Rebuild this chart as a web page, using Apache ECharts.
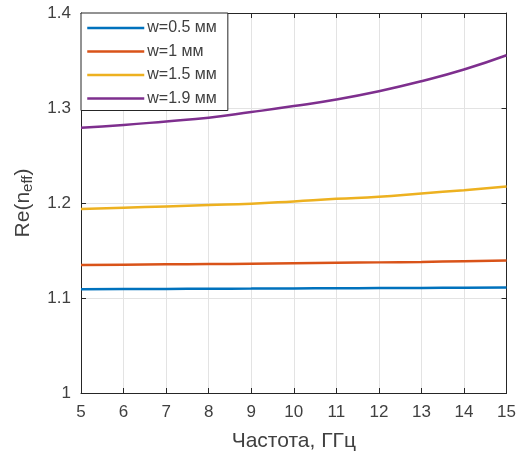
<!DOCTYPE html>
<html>
<head>
<meta charset="utf-8">
<script src="https://cdn.jsdelivr.net/npm/echarts@6/dist/echarts.min.js"></script>
<style>
  html, body { margin: 0; padding: 0; background: #fff; }
  #chart { width: 519px; height: 457px; }
</style>
</head>
<body>
<div id="chart"></div>
<script>
// Frequency grid, GHz
const freq = [5, 6, 7, 8, 9, 10, 11, 12, 13, 14, 15];

// Re(n_eff) for each strip width
const w05 = [1.1093, 1.1095, 1.1096, 1.1098, 1.1099, 1.1101, 1.1102, 1.1104, 1.1106, 1.1108, 1.1110];
const w10 = [1.1348, 1.1351, 1.1354, 1.1357, 1.1361, 1.1366, 1.1370, 1.1375, 1.1380, 1.1387, 1.1394];
const w15 = [1.1936, 1.1950, 1.1964, 1.1978, 1.1992, 1.2017, 1.2044, 1.2065, 1.2101, 1.2135, 1.2174];
const w19 = [1.2793, 1.2821, 1.2859, 1.2898, 1.2957, 1.3020, 1.3090, 1.3177, 1.3282, 1.3405, 1.3555];

const seriesNames = ['w=0.5 мм', 'w=1 мм', 'w=1.5 мм', 'w=1.9 мм'];
const seriesData = [w05, w10, w15, w19];
const colors = ['#0072BD', '#D95319', '#EDB120', '#7E2F8E'];

const FONT = 'Liberation Sans, Arial, sans-serif';
const AX = '#262626';
const TXT = '#404040';

const chart = echarts.init(document.getElementById('chart'), null, { renderer: 'canvas' });

// Top/right axes only close the box and carry inward ticks
const boxAxis = {
  axisLine: { show: true, lineStyle: { color: AX, width: 1 } },
  axisTick: { show: true, inside: true, length: 5, lineStyle: { color: AX } },
  axisLabel: { show: false },
  splitLine: { show: false }
};

chart.setOption({
  backgroundColor: '#fff',
  animation: false,
  color: colors,
  grid: { left: 81, right: 11, top: 13, bottom: 62, containLabel: false },
  legend: {
    orient: 'vertical',
    left: 81,
    top: 13,
    data: seriesNames,
    itemWidth: 57,
    itemHeight: 14,
    itemGap: 7.5,
    padding: [7, 11, 4, 5],
    borderColor: AX,
    borderWidth: 1,
    borderRadius: 0,
    backgroundColor: '#fff',
    itemStyle: { opacity: 0 },
    lineStyle: { width: 2.5 },
    textStyle: { fontFamily: FONT, fontSize: 16, color: TXT, padding: [0, 0, 0, -2] }
  },
  xAxis: [
    {
      type: 'value', min: 5, max: 15, interval: 1, position: 'bottom',
      name: 'Частота, ГГц', nameLocation: 'middle', nameGap: 38,
      nameTextStyle: { fontFamily: FONT, fontSize: 21, color: TXT },
      axisLine: { show: true, lineStyle: { color: AX, width: 1 } },
      axisTick: { show: true, inside: true, length: 5, lineStyle: { color: AX } },
      axisLabel: { fontFamily: FONT, fontSize: 17, color: TXT, margin: 11 },
      splitLine: { show: true, lineStyle: { color: '#e3e3e3', width: 1 } }
    },
    Object.assign({ type: 'value', min: 5, max: 15, interval: 1, position: 'top' }, boxAxis)
  ],
  yAxis: [
    {
      type: 'value', min: 1, max: 1.4, interval: 0.1, position: 'left',
      name: 'Re(n{sub|eff})', nameLocation: 'middle', nameGap: 46,
      nameTextStyle: {
        fontFamily: FONT, fontSize: 21, color: TXT, lineHeight: 24,
        rich: {
          sub: { fontFamily: FONT, fontSize: 15, color: TXT, lineHeight: 8, verticalAlign: 'bottom' }
        }
      },
      axisLine: { show: true, lineStyle: { color: AX, width: 1 } },
      axisTick: { show: true, inside: true, length: 5, lineStyle: { color: AX } },
      axisLabel: {
        fontFamily: FONT, fontSize: 17, color: TXT, margin: 10,
        formatter: v => (Math.abs(v - 1) < 1e-9 ? '1' : v.toFixed(1))
      },
      splitLine: { show: true, lineStyle: { color: '#e3e3e3', width: 1 } }
    },
    Object.assign({ type: 'value', min: 1, max: 1.4, interval: 0.1, position: 'right' }, boxAxis)
  ],
  series: seriesNames.map((name, i) => ({
    name: name,
    type: 'line',
    xAxisIndex: 0,
    yAxisIndex: 0,
    smooth: true,
    symbol: 'none',
    lineStyle: { width: 2.5, color: colors[i] },
    data: freq.map((f, k) => [f, seriesData[i][k]])
  }))
});
</script>
</body>
</html>
